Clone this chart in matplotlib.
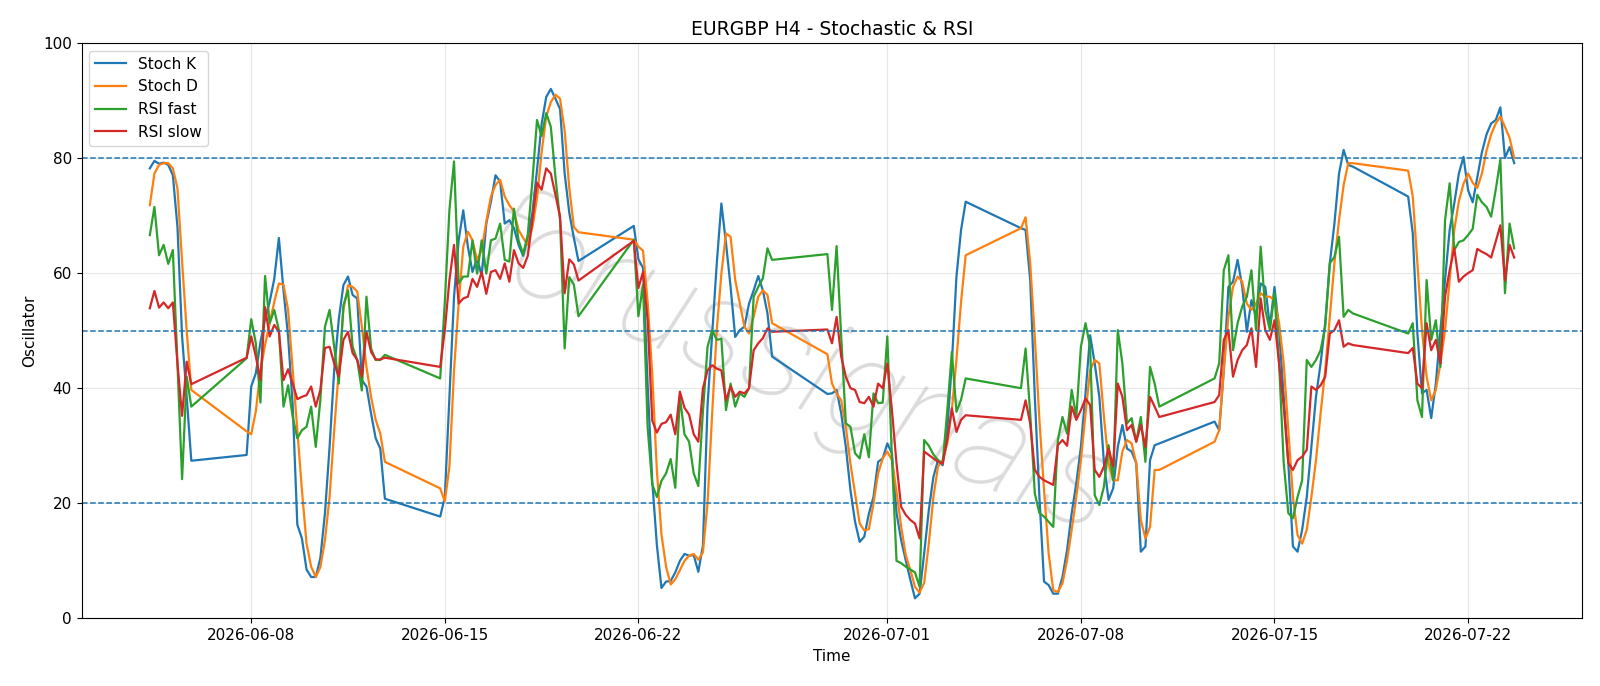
"""
plot.py - EURGBP H4 stochastic & RSI oscillator chart
"""

import numpy as np
import pandas as pd
import matplotlib
matplotlib.use("Agg")
import matplotlib.pyplot as plt
import matplotlib.dates as mdates

# -----------------------------
# 1. Data (H4 bars, weekends skipped)
# -----------------------------
first_bar = "2026-06-04 08:00"
last_bar = "2026-07-23 16:00"

# one row per trading day (Sun 20:00 bar starts each week)
stoch_k = [
    78.2, 79.5, 79.0, 79.2, 78.8, 77.0, 68.0, 49.0, 38.5, 27.4,
    28.4,
    40.3, 42.6, 48.0, 52.0, 55.0, 59.0,
    66.1, 57.0, 49.0, 37.0, 16.3, 13.9,
    8.5, 7.2, 7.2, 10.5, 18.3, 29.8,
    43.1, 52.0, 57.9, 59.4, 56.2, 55.6,
    41.4, 40.3, 35.6, 31.3, 29.5, 20.8,
    17.7,
    21.1, 38.5, 55.9, 65.7, 70.9, 64.6,
    60.2, 62.5, 59.6, 68.6, 72.4, 77.0,
    75.9, 68.6, 69.2, 67.8, 64.9, 63.0,
    66.1, 70.5, 77.9, 85.9, 90.6, 92.0,
    90.3, 88.5, 77.3, 70.5, 66.1, 62.1,
    68.2,
    62.4, 60.9, 40.7, 23.9, 12.8, 5.3,
    6.4, 6.5, 8.0, 10.0, 11.2, 10.9,
    11.0, 8.1, 12.7, 37.0, 49.5, 61.7,
    72.1, 65.2, 57.6, 48.9, 50.1, 50.7,
    54.7, 57.0, 59.5, 57.0, 53.0, 45.5,
    39.0,
    39.1, 39.7, 35.6, 29.8, 22.3, 16.8,
    13.3, 14.2, 18.2, 21.1, 27.2, 27.8,
    30.4, 28.7, 18.3, 13.6, 10.1, 6.7,
    3.5, 4.3, 11.3, 18.8, 24.6, 27.5,
    26.6, 32.7, 44.3, 59.4, 67.5, 72.4,
    67.8,
    67.5, 58.8, 38.5, 21.1, 6.4, 5.8,
    4.3, 4.3, 7.2, 11.9, 18.3, 23.5,
    29.8, 39.1, 49.2, 44.3, 38.5, 27.0,
    20.6, 22.6, 29.8, 33.6, 29.5, 29.0,
    27.0, 11.6, 12.5, 27.5, 30.1, 30.4,
    34.2,
    32.7, 43.1, 57.6, 58.5, 62.3, 57.6,
    49.8, 55.3, 52.4, 58.2, 57.6, 50.7,
    57.6, 50.1, 38.5, 27.0, 12.5, 11.6,
    15.4, 21.1, 29.8, 38.5, 44.3, 51.3,
    61.7, 68.6, 77.3, 81.4, 78.8, 78.5,
    73.3,
    66.9, 49.5, 39.1, 39.7, 34.8, 40.8,
    50.1, 58.8, 67.5, 72.1, 77.3, 80.2,
    74.4, 72.3, 76.7, 81.0, 84.1, 86.0,
    86.6, 88.8, 80.0, 81.9, 79.1,
]

stoch_d = [
    71.8, 77.3, 78.8, 79.1, 79.1, 78.2, 74.7, 62.0, 50.0, 39.7,
    32.5,
    32.0, 36.0, 43.0, 47.5, 51.3, 55.0,
    58.2, 58.0, 53.6, 43.1, 32.7, 22.3,
    13.0, 9.0, 7.2, 8.9, 13.6, 21.1,
    32.7, 43.1, 53.6, 57.9, 57.6, 56.8,
    50.7, 43.7, 38.5, 34.5, 32.1, 27.2,
    22.6,
    20.3, 26.4, 43.1, 54.7, 64.6, 67.2,
    65.7, 62.3, 64.0, 69.0, 73.3, 75.3,
    76.2, 73.3, 71.8, 70.7, 67.5, 66.1,
    64.9, 68.0, 73.0, 81.0, 87.2, 89.7,
    91.0, 90.3, 84.7, 74.8, 68.0, 67.1,
    65.8,
    64.6, 63.9, 55.0, 42.5, 25.8, 14.6,
    9.0, 5.9, 6.8, 8.4, 10.0, 10.9,
    11.2, 10.2, 11.5, 20.0, 35.6, 50.1,
    59.9, 66.9, 66.3, 58.8, 54.7, 50.7,
    49.5, 52.4, 55.9, 57.0, 56.2, 51.3,
    45.9,
    40.8, 39.1, 37.9, 33.3, 26.9, 21.7,
    16.5, 15.3, 15.5, 20.0, 25.2, 27.8,
    29.0, 27.5, 22.0, 16.0, 11.0, 8.4,
    5.5, 4.5, 6.2, 13.0, 21.1, 26.4,
    27.5, 30.4, 36.2, 45.0, 55.0, 63.1,
    67.8,
    69.7, 61.7, 48.9, 34.5, 22.3, 11.3,
    4.9, 4.6, 6.1, 10.1, 15.4, 21.1,
    27.5, 35.6, 43.1, 44.9, 44.3, 35.0,
    27.0, 24.0, 24.0, 29.0, 31.0, 30.4,
    27.0, 17.1, 13.9, 15.9, 25.8, 25.8,
    30.7,
    32.7, 43.1, 52.4, 57.6, 59.4, 58.5,
    54.7, 53.6, 54.7, 56.5, 55.9, 55.9,
    55.3, 51.3, 44.3, 32.7, 21.1, 14.5,
    13.0, 15.4, 21.1, 27.5, 35.6, 43.1,
    52.4, 61.7, 69.2, 75.3, 79.1, 79.1,
    77.8,
    73.3, 61.7, 50.1, 42.0, 37.9, 39.7,
    44.3, 50.1, 58.8, 67.5, 72.5, 75.5,
    77.3, 75.7, 74.8, 77.3, 81.3, 84.1,
    86.0, 87.2, 85.4, 83.5, 80.0,
]

rsi_fast = [
    66.6, 71.5, 63.1, 64.9, 61.6, 64.0, 44.0, 24.2, 42.0, 36.8,
    45.2,
    52.0, 47.8, 37.5, 59.5, 51.3, 53.6,
    50.1, 36.8, 40.5, 35.0, 31.3, 32.7,
    33.3, 36.8, 29.8, 38.0, 50.7, 53.6,
    47.2, 40.8, 54.4, 57.0, 47.2, 44.9,
    39.6, 55.9, 46.9, 44.9, 44.9, 45.8,
    41.7,
    55.0, 71.0, 79.4, 58.2, 59.4, 59.4,
    65.7, 59.9, 65.7, 59.9, 65.7, 66.0,
    68.6, 62.3, 62.0, 71.2, 65.7, 63.3,
    66.7, 76.0, 86.6, 83.8, 87.8, 85.4,
    76.7, 69.2, 46.9, 59.3, 58.0, 52.5,
    65.8,
    52.5, 58.0, 33.2, 23.3, 21.1, 23.9,
    25.2, 27.7, 22.7, 38.5, 32.0, 30.7,
    25.2, 23.0, 36.0, 47.2, 50.1, 48.4,
    48.6, 36.2, 40.8, 36.8, 39.1, 38.5,
    40.0, 55.9, 57.6, 59.1, 64.3, 62.3,
    63.3,
    53.6, 64.7, 48.9, 33.9, 33.3, 28.7,
    27.8, 32.0, 28.0, 39.1, 37.4, 37.5,
    49.0, 28.0, 10.0, 9.6, 9.0, 8.5,
    8.0, 5.5, 31.0, 30.0, 28.5, 27.5,
    26.9, 36.0, 46.3, 35.9, 38.0, 41.7,
    40.0,
    46.9, 35.6, 21.7, 18.3, 17.7, 16.8,
    15.9, 31.0, 35.0, 32.1, 39.7, 35.0,
    47.2, 51.3, 47.2, 21.4, 19.7, 22.9,
    30.1, 24.0, 50.1, 44.3, 33.9, 34.8,
    30.7, 35.0, 27.2, 43.7, 40.8, 36.8,
    41.7,
    44.3, 60.5, 63.1, 46.6, 51.3, 54.2,
    55.9, 60.5, 50.1, 64.6, 53.6, 50.1,
    56.5, 44.3, 27.0, 18.3, 17.4, 21.1,
    24.0, 44.9, 43.7, 44.9, 46.6, 50.7,
    61.7, 62.8, 66.3, 52.4, 53.6, 53.0,
    49.5,
    51.3, 37.9, 35.0, 58.8, 48.4, 51.8,
    43.7, 69.2, 75.6, 64.0, 65.4, 65.7,
    66.6, 67.7, 73.6, 72.3, 71.5, 69.8,
    74.5, 79.7, 56.5, 68.6, 64.3,
]

rsi_slow = [
    53.9, 56.9, 54.0, 54.9, 53.9, 54.9, 44.3, 35.2, 44.6, 40.7,
    45.3,
    49.0, 45.5, 41.4, 54.1, 49.0, 51.0,
    49.8, 41.4, 43.3, 40.8, 38.1, 38.5,
    38.8, 40.3, 36.8, 39.7, 47.0, 47.2,
    44.3, 42.0, 48.4, 49.8, 46.1, 44.9,
    42.0, 49.8, 46.3, 45.0, 45.0, 45.3,
    43.7,
    50.1, 58.8, 64.9, 54.7, 55.6, 55.9,
    59.0, 57.6, 60.2, 56.4, 60.2, 60.5,
    59.0, 61.7, 58.5, 64.0, 61.7, 60.9,
    63.0, 69.2, 75.7, 74.5, 78.2, 77.3,
    73.6, 69.8, 56.5, 62.4, 61.5, 58.7,
    65.6,
    57.4, 60.2, 51.8, 34.4, 32.3, 33.8,
    34.1, 35.4, 32.0, 39.4, 36.6, 35.4,
    32.0, 30.7, 40.0, 43.1, 44.0, 43.4,
    43.1, 37.9, 40.3, 38.5, 39.4, 39.1,
    40.0, 46.6, 47.8, 48.7, 50.4, 49.8,
    50.2,
    47.8, 52.4, 45.5, 42.0, 40.0, 39.7,
    37.6, 37.4, 38.5, 36.8, 40.8, 40.0,
    44.3, 36.2, 26.9, 19.4, 18.0, 17.1,
    16.5, 13.9, 29.0, 28.4, 27.8, 27.2,
    26.9, 31.0, 36.5, 32.4, 34.5, 35.3,
    34.5,
    37.9, 33.9, 25.8, 24.6, 24.0, 23.6,
    23.2, 30.1, 31.0, 30.0, 36.8, 34.5,
    36.2, 38.2, 37.1, 25.8, 24.6, 26.4,
    29.5, 26.4, 40.8, 38.5, 32.7, 33.6,
    30.7, 33.6, 29.8, 38.5, 36.8, 35.0,
    37.6,
    38.8, 48.4, 50.1, 42.0, 44.9, 46.6,
    47.5, 50.4, 43.7, 55.6, 50.1, 48.4,
    51.8, 44.3, 36.8, 27.0, 25.8, 27.5,
    28.1, 29.3, 40.3, 39.7, 40.5, 42.0,
    49.5, 50.1, 51.8, 47.2, 47.8, 47.5,
    46.1,
    47.0, 40.8, 40.0, 51.3, 46.6, 48.4,
    44.3, 55.9, 60.5, 64.3, 58.5, 59.4,
    60.0, 60.5, 64.2, 63.7, 63.3, 62.7,
    65.5, 68.3, 58.7, 64.9, 62.7,
]

levels = [20, 50, 80]

# -----------------------------
# 2. Bar timestamps: 4h grid, no Saturday, Sunday only from 20:00
# -----------------------------
idx = pd.date_range(first_bar, last_bar, freq="4h")
keep = ~((idx.dayofweek == 5) | ((idx.dayofweek == 6) & (idx.hour < 20)))
times = idx[keep]

df = pd.DataFrame({
    "k": stoch_k, "d": stoch_d, "fast": rsi_fast, "slow": rsi_slow,
}, index=times)

# -----------------------------
# 3. Plot
# -----------------------------
fig = plt.figure(figsize=(16, 6.86), dpi=100)
ax = fig.add_axes([0.051, 0.0985, 0.938, 0.839])

ax.plot(df.index, df["k"], label="Stoch K", lw=1.6)
ax.plot(df.index, df["d"], label="Stoch D", lw=1.6)
ax.plot(df.index, df["fast"], label="RSI fast", lw=1.6)
ax.plot(df.index, df["slow"], label="RSI slow", lw=1.6)

for lvl in levels:
    ax.axhline(lvl, color="#1f77b4", linestyle="--", lw=1.1)

# faint watermark across the middle
ax.text(0.475, 0.43, "forussignals", transform=ax.transAxes,
        family=["Roboto", "DejaVu Sans"], fontsize=96,
        fontstyle="italic", fontweight="light",
        color="#b8b8b8", alpha=0.5, rotation=-23,
        ha="center", va="center", zorder=0)

ax.set_ylim(0, 100)
ax.xaxis.set_major_locator(mdates.DayLocator(bymonthday=[1, 8, 15, 22]))
ax.xaxis.set_major_formatter(mdates.DateFormatter("%Y-%m-%d"))
ax.grid(True, alpha=0.3)
ax.tick_params(labelsize=11)
ax.set_title("EURGBP H4 - Stochastic & RSI", fontsize=13.5)
ax.set_xlabel("Time", fontsize=11)
ax.set_ylabel("Oscillator", fontsize=11)
ax.legend(loc="upper left", fontsize=11)

fig.savefig("out.png", dpi=100)
